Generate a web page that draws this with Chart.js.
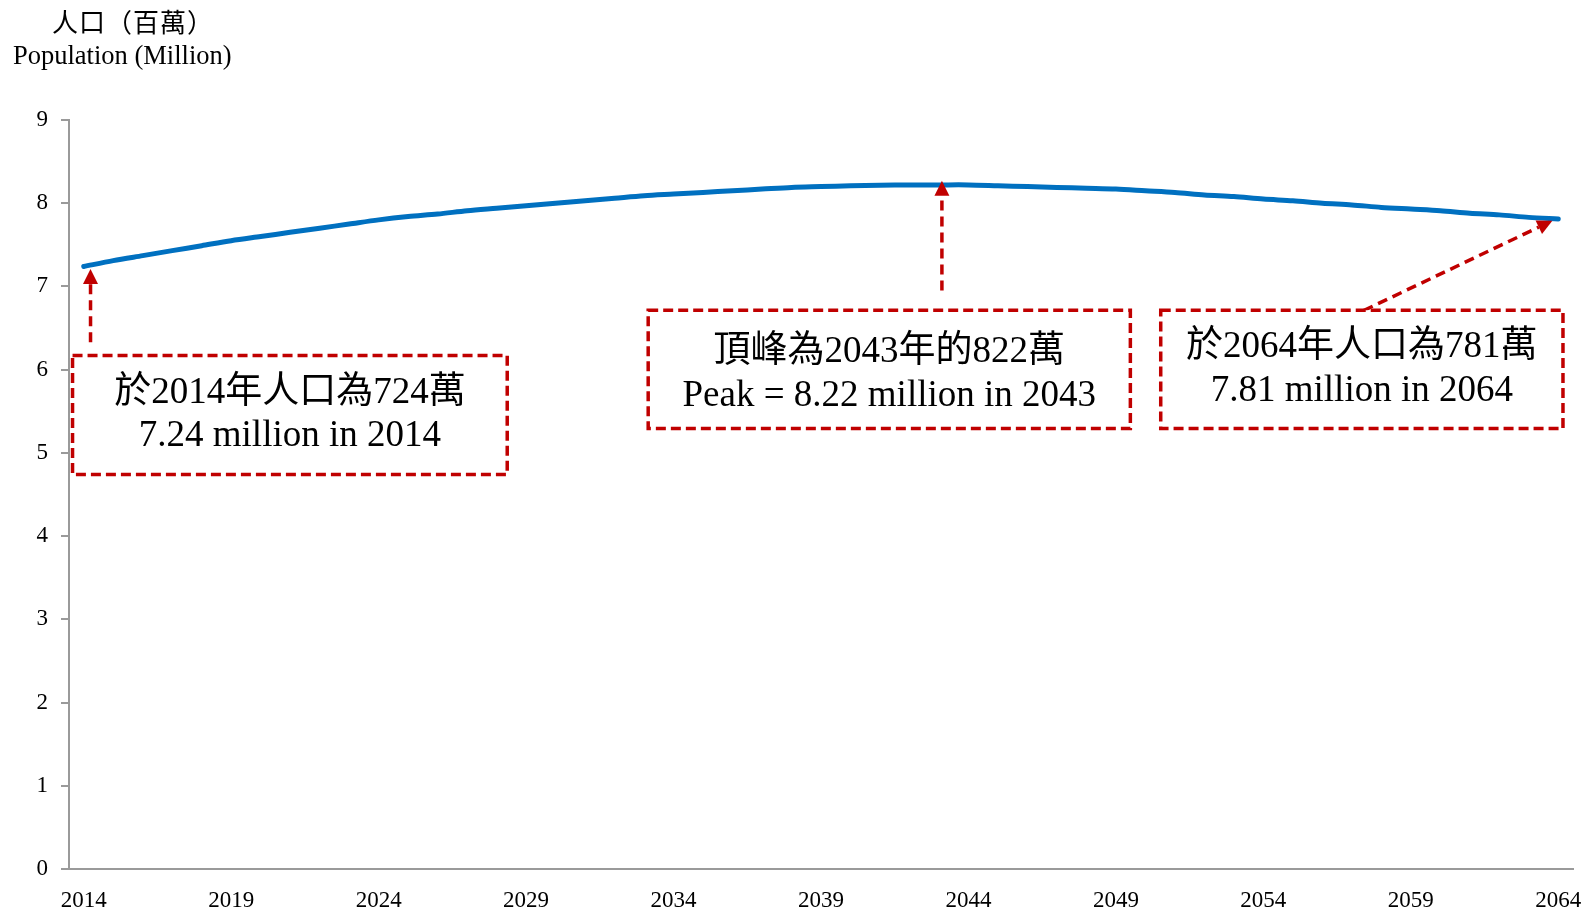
<!DOCTYPE html>
<html lang="zh-Hant">
<head>
<meta charset="utf-8">
<title>Population projection 2014-2064</title>
<script src="https://cdn.jsdelivr.net/npm/chart.js@4.4.1/dist/chart.umd.min.js"></script>
<style>
  html, body { margin: 0; padding: 0; background: #fff; }
  #chart { position: relative; width: 1589px; height: 911px; }
</style>
</head>
<body>
<div id="chart"><canvas id="myChart"></canvas></div>
<script>
// categories (one per year)
const years = ['2014','2015','2016','2017','2018','2019','2020','2021','2022','2023',
               '2024','2025','2026','2027','2028','2029','2030','2031','2032','2033',
               '2034','2035','2036','2037','2038','2039','2040','2041','2042','2043',
               '2044','2045','2046','2047','2048','2049','2050','2051','2052','2053',
               '2054','2055','2056','2057','2058','2059','2060','2061','2062','2063','2064'];

// population, millions
const population = [7.24, 7.31, 7.37, 7.43, 7.49, 7.55, 7.60, 7.65, 7.70, 7.75,
                    7.80, 7.84, 7.87, 7.91, 7.94, 7.97, 8.00, 8.03, 8.06, 8.09,
                    8.11, 8.13, 8.15, 8.17, 8.19, 8.20, 8.21, 8.215, 8.22, 8.22,
                    8.22, 8.21, 8.20, 8.19, 8.18, 8.17, 8.15, 8.13, 8.10, 8.08,
                    8.05, 8.03, 8.00, 7.98, 7.95, 7.93, 7.91, 7.88, 7.86, 7.83, 7.81];

// x tick labels shown
const tickYears = ['2014','2019','2024','2029','2034','2039','2044','2049','2054','2059','2064'];

const titleZh = '人口（百萬）';
const titleEn = 'Population (Million)';

const noteZh = ['於2014年人口為724萬', '頂峰為2043年的822萬', '於2064年人口為781萬'];
const noteEn = ['7.24 million in 2014', 'Peak = 8.22 million in 2043', '7.81 million in 2064'];

// where the callouts sit, in year / value units
const noteBoxes = [
  {x0: 2013.62, x1: 2028.36, top: 6.17, bottom: 4.74, l1: 5.72, l2: 5.195},
  {x0: 2033.14, x1: 2049.49, top: 6.714, bottom: 5.292, l1: 6.205, l2: 5.68},
  {x0: 2050.52, x1: 2064.16, top: 6.714, bottom: 5.292, l1: 6.265, l2: 5.745}
];
const noteArrows = [
  {fx: 2014.23, fy: 6.33, tx: 2014.23, ty: 7.21},
  {fx: 2043.1, fy: 6.95, tx: 2043.1, ty: 8.27},
  {fx: 2057.4, fy: 6.71, tx: 2063.8, ty: 7.79}
];

const RED = '#C00000';
const SERIF = '"Liberation Serif", "Times New Roman", serif';
const CJK = '"Noto Sans CJK TC", "Noto Sans CJK SC", sans-serif';

function drawArrow(ctx, x0, y0, x1, y1) {
  const a = Math.atan2(y1 - y0, x1 - x0);
  const len = 15, half = 7.5;
  const bx = x1 - Math.cos(a) * len, by = y1 - Math.sin(a) * len;
  ctx.save();
  ctx.strokeStyle = RED;
  ctx.lineWidth = 3.5;
  ctx.setLineDash([10, 6]);
  ctx.beginPath();
  ctx.moveTo(x0, y0);
  ctx.lineTo(bx, by);
  ctx.stroke();
  ctx.setLineDash([]);
  ctx.fillStyle = RED;
  ctx.beginPath();
  ctx.moveTo(x1, y1);
  ctx.lineTo(bx - Math.sin(a) * half, by + Math.cos(a) * half);
  ctx.lineTo(bx + Math.sin(a) * half, by - Math.cos(a) * half);
  ctx.closePath();
  ctx.fill();
  ctx.restore();
}

const notesPlugin = {
  id: 'notes',
  afterDatasetsDraw(chart) {
    const ctx = chart.ctx;
    const xs = chart.scales.x, ys = chart.scales.y;
    const px = yr => xs.getPixelForValue(yr - 2014);
    const py = v => ys.getPixelForValue(v);

    noteArrows.forEach(a => drawArrow(ctx, px(a.fx), py(a.fy), px(a.tx), py(a.ty)));

    noteBoxes.forEach((b, i) => {
      const l = px(b.x0), r = px(b.x1), t = py(b.top), btm = py(b.bottom);
      ctx.save();
      ctx.fillStyle = '#fff';
      ctx.fillRect(l, t, r - l, btm - t);
      ctx.strokeStyle = RED;
      ctx.lineWidth = 3.5;
      ctx.setLineDash([10, 5]);
      ctx.strokeRect(l, t, r - l, btm - t);
      ctx.fillStyle = '#000';
      ctx.textAlign = 'center';
      ctx.textBaseline = 'middle';
      ctx.font = '37px ' + SERIF + ', ' + CJK;
      ctx.fillText(noteZh[i], (l + r) / 2, py(b.l1));
      ctx.font = '37px ' + SERIF;
      ctx.fillText(noteEn[i], (l + r) / 2, py(b.l2));
      ctx.restore();
    });

    ctx.save();
    ctx.fillStyle = '#000';
    ctx.textAlign = 'left';
    ctx.textBaseline = 'middle';
    ctx.font = '26px ' + CJK;
    ctx.letterSpacing = '1px';
    ctx.fillText(titleZh, 52, 22);
    ctx.letterSpacing = '0px';
    ctx.font = '26.5px ' + SERIF;
    ctx.fillText(titleEn, 13, 57);
    ctx.restore();
  }
};

new Chart('myChart', {
  type: 'line',
  data: {
    labels: years,
    datasets: [{
      data: population,
      borderColor: '#0070C0',
      backgroundColor: '#0070C0',
      borderWidth: 5,
      borderCapStyle: 'round',
      fill: false,
      tension: 0.3,
      pointRadius: 0
    }]
  },
  options: {
    responsive: true,
    maintainAspectRatio: false,
    animation: false,
    layout: { padding: { top: 120, right: 16, left: 0, bottom: 0 } },
    plugins: {
      legend: { display: false },
      tooltip: { enabled: false }
    },
    scales: {
      x: {
        offset: true,
        grid: { display: false, drawTicks: false },
        border: { display: true, color: '#9a9a9a', width: 2 },
        ticks: {
          autoSkip: false,
          maxRotation: 0,
          padding: 18,
          color: '#000',
          font: { family: SERIF, size: 23 },
          callback: function (value) {
            const lab = this.getLabelForValue(value);
            return tickYears.includes(lab) ? lab : '';
          }
        },
        afterFit: s => { s.height = 42; s.paddingRight = 0; s.paddingLeft = 0; }
      },
      y: {
        min: 0,
        max: 9,
        grid: { display: true, drawOnChartArea: false, drawTicks: true, tickLength: 8, color: '#9a9a9a', lineWidth: 2 },
        border: { display: true, color: '#9a9a9a', width: 2 },
        ticks: {
          stepSize: 1,
          padding: 13,
          color: '#000',
          font: { family: SERIF, size: 23 }
        },
        afterFit: s => { s.width = 69; }
      }
    }
  },
  plugins: [notesPlugin]
});
</script>
</body>
</html>
